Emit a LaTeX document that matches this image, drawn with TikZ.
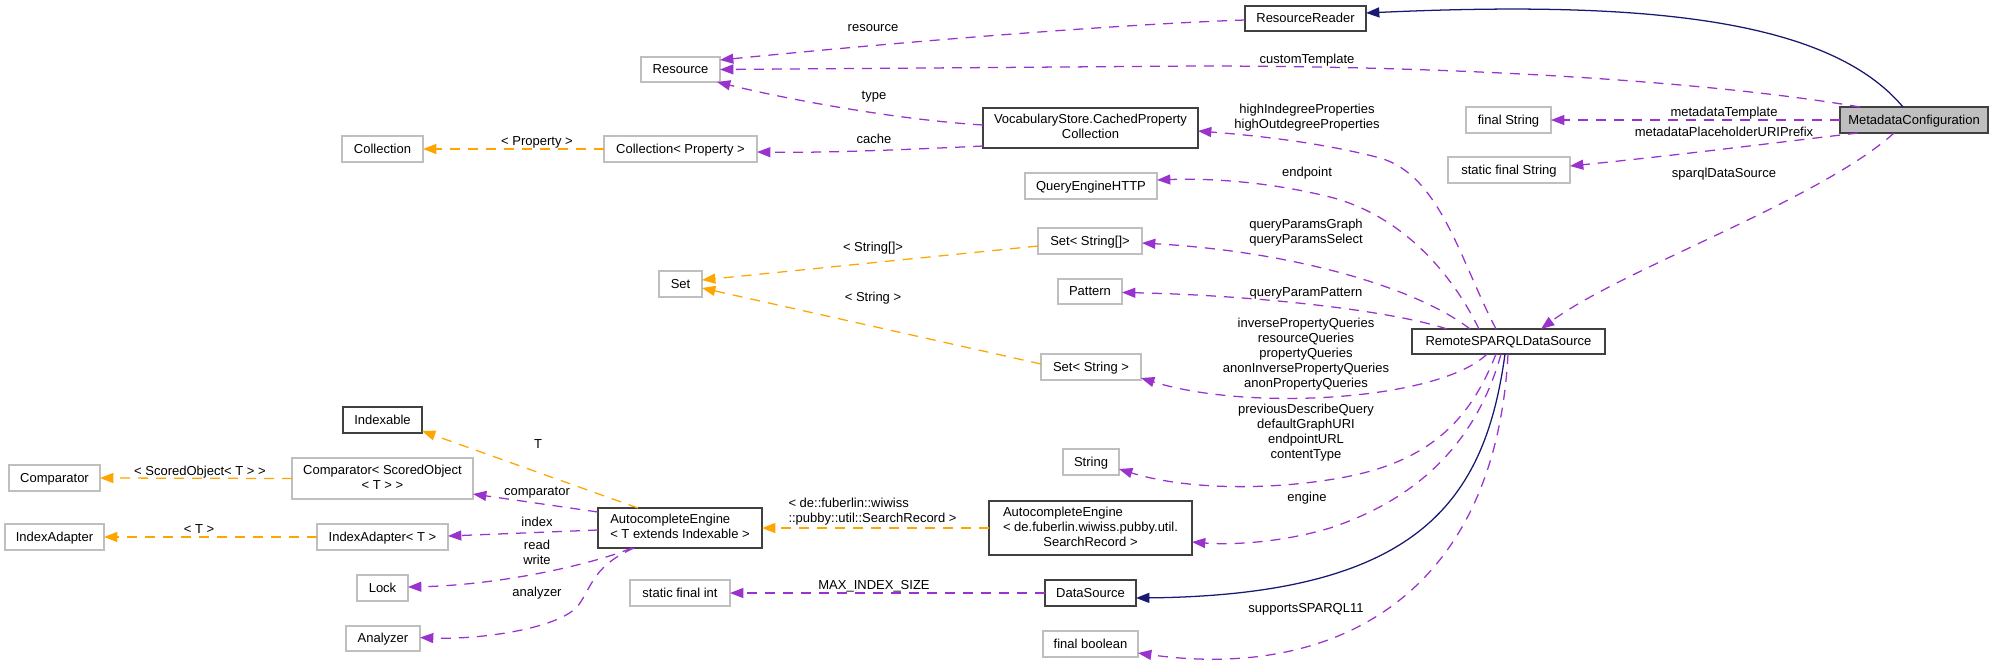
\documentclass[tikz,border=0pt]{standalone}
\usepackage{fontspec}
\setmainfont{Liberation Sans}
\usetikzlibrary{arrows.meta}
\definecolor{edgepurple}{HTML}{9A32CD}
\definecolor{edgeorange}{HTML}{FFA500}
\definecolor{edgenavy}{HTML}{191970}
\definecolor{boxgray}{HTML}{BFBFBF}
\definecolor{boxdark}{HTML}{404040}
\begin{document}
\begin{tikzpicture}[x=0.75pt,y=-0.75pt,
  font=\fontsize{9.75}{11.25}\selectfont,
  cell/.style n args={4}{at={({(#1+#3)/2},{(#2+#4)/2})},
    minimum width={(#3-#1)*0.75pt}, minimum height={(#4-#2)*0.75pt}},
  box/.style={draw=boxgray, line width=0.9pt, fill=white, inner sep=0pt, outer sep=0pt, align=center},
  docbox/.style={box, draw=boxdark, line width=1.3pt},
  one/.style={text height=7.5pt, text depth=1.5pt},
  lbl/.style={inner sep=0pt, align=center},
  lbl1/.style={lbl, text height=7.5pt, text depth=1.5pt},
  tip/.style={-{Triangle[length=10pt,width=7.5pt]}},
  pe/.style={draw=edgepurple, line width=0.95pt, dash pattern=on 7.5pt off 6pt, tip},
  oe/.style={draw=edgeorange, line width=0.95pt, dash pattern=on 7.5pt off 6pt, tip},
  ne/.style={draw=edgenavy, line width=0.95pt, tip},
]
\useasboundingbox (0,0) rectangle (1995,665);

% ---- classes ----
\node[docbox, one, fill=boxgray, cell={1840}{107}{1988}{133}] (meta) {MetadataConfiguration};
\node[docbox, one, cell={1245}{6}{1366}{31}] (rr) {ResourceReader};
\node[box, one, cell={641}{57}{720}{82}] (res) {Resource};
\node[box, one, cell={1466}{107}{1551}{133}] (fstr) {final String};
\node[box, one, cell={1448}{157}{1570}{183}] (sfstr) {static final String};
\node[docbox, cell={983}{108}{1198}{148}] (vocab) {\begin{tabular}{@{}c@{}}VocabularyStore.CachedProperty\\Collection\end{tabular}};
\node[box, one, cell={342}{136}{423}{162}] (coll) {Collection};
\node[box, one, cell={604}{136}{757}{162}] (collp) {Collection< Property >};
\node[box, one, cell={1025}{173}{1157}{199}] (qe) {QueryEngineHTTP};
\node[box, one, cell={1038}{228}{1142}{254}] (setsa) {Set< String[]>};
\node[box, one, cell={659}{271}{702}{297}] (set) {Set};
\node[box, one, cell={1058}{279}{1122}{304}] (pattern) {Pattern};
\node[box, one, cell={1041}{354}{1141}{380}] (sets) {Set< String >};
\node[docbox, one, cell={1412}{329}{1605}{354}] (rsds) {RemoteSPARQLDataSource};
\node[docbox, one, cell={343}{407}{422}{433}] (indexable) {Indexable};
\node[box, one, cell={1063}{449}{1119}{475}] (string) {String};
\node[box, one, cell={9}{465}{100}{491}] (comp) {Comparator};
\node[box, cell={292}{458}{473}{499}] (compso) {\begin{tabular}{@{}c@{}}Comparator< ScoredObject\\< T > >\end{tabular}};
\node[docbox, cell={598}{508}{762}{548}] (aet) {\begin{tabular}{@{}l@{}}AutocompleteEngine\\< T extends Indexable >\end{tabular}};
\node[box, one, cell={5}{524}{104}{550}] (idxa) {IndexAdapter};
\node[box, one, cell={317}{524}{448}{550}] (idxat) {IndexAdapter< T >};
\node[docbox, cell={989}{501}{1192}{555}] (aede) {\begin{tabular}{@{}l@{}}AutocompleteEngine\\< de.fuberlin.wiwiss.pubby.util.\\\multicolumn{1}{@{}c@{}}{SearchRecord >}\end{tabular}};
\node[box, one, cell={357}{575}{408}{601}] (lock) {Lock};
\node[box, one, cell={630}{580}{730}{606}] (sfint) {static final int};
\node[docbox, one, cell={1045}{580}{1136}{606}] (ds) {DataSource};
\node[box, one, cell={346}{626}{420}{651}] (analyzer) {Analyzer};
\node[box, one, cell={1043}{631}{1138}{657}] (fbool) {final boolean};

% ---- inheritance ----
\draw[ne] ([shift={(63,0)}]meta.north west) .. controls (1830,20) and (1650,0) .. ([shift={(0,-5.5)}]rr.east);
\draw[ne] ([shift={(93,0)}]rsds.south west) .. controls (1485,500) and (1420,595) .. ([shift={(0,5)}]ds.east);

% ---- template instances ----
\draw[oe] (collp.west) -- (coll.east);
\draw[oe] ([shift={(0,5)}]setsa.west) -- ([shift={(0,-4)}]set.east);
\draw[oe] ([shift={(0,10)}]sets.north west) -- ([shift={(0,4)}]set.east);
\draw[oe] (aede.west) -- (aet.east);
\draw[oe] ([shift={(40,0)}]aet.north west) -- ([shift={(0,-2)}]indexable.south east);
\draw[oe] (compso.west) -- (comp.east);
\draw[oe] (idxat.west) -- (idxa.east);

% ---- usage relations ----
\draw[pe] ([shift={(20,0)}]meta.north west) .. controls (1700,80) and (1450,66) .. (1200,66) -- (res.east);
\draw[pe] ([shift={(0,14)}]rr.north west) .. controls (1100,25) and (870,45) .. ([shift={(0,3)}]res.north east);
\draw[pe] ([shift={(0,17)}]vocab.north west) .. controls (900,120) and (790,100) .. ([shift={(-3,0)}]res.south east);
\draw[pe] ([shift={(0,38)}]vocab.north west) .. controls (900,150) and (820,153) .. ([shift={(0,3)}]collp.east);
\draw[pe] (meta.west) -- (fstr.east);
\draw[pe] ([shift={(18,0)}]meta.south west) .. controls (1780,142) and (1680,155) .. ([shift={(0,-4)}]sfstr.east);
\draw[pe] ([shift={(54,0)}]meta.south west) .. controls (1820,200) and (1620,270) .. ([shift={(129,0)}]rsds.north west);
\draw[pe] ([shift={(84,0)}]rsds.north west) .. controls (1460,260) and (1440,175) .. (1380,158) .. controls (1320,142) and (1250,135) .. ([shift={(0,3)}]vocab.east);
\draw[pe] ([shift={(67,0)}]rsds.north west) .. controls (1450,270) and (1400,215) .. (1330,197) .. controls (1270,182) and (1210,178) .. ([shift={(0,-6)}]qe.east);
\draw[pe] ([shift={(58,0)}]rsds.north west) .. controls (1420,290) and (1300,252) .. ([shift={(0,2)}]setsa.east);
\draw[pe] ([shift={(35,0)}]rsds.north west) .. controls (1390,310) and (1250,295) .. ([shift={(0,1)}]pattern.east);
\draw[pe] ([shift={(75,0)}]rsds.south west) .. controls (1440,400) and (1250,412) .. ([shift={(0,-2)}]sets.south east);
\draw[pe] ([shift={(84,0)}]rsds.south west) .. controls (1470,420) and (1430,462) .. (1340,478) .. controls (1260,492) and (1180,488) .. ([shift={(0,7)}]string.east);
\draw[pe] ([shift={(89,0)}]rsds.south west) .. controls (1480,430) and (1430,495) .. (1330,528) .. controls (1280,543) and (1230,545) .. ([shift={(0,14)}]aede.east);
\draw[pe] ([shift={(96,0)}]rsds.south west) .. controls (1495,600) and (1330,680) .. ([shift={(0,9)}]fbool.east);
\draw[pe] (ds.west) -- (sfint.east);
\draw[pe] ([shift={(0,4)}]aet.north west) -- ([shift={(0,-5)}]compso.south east);
\draw[pe] ([shift={(0,2)}]aet.west) -- ([shift={(0,-1)}]idxat.east);
\draw[pe] ([shift={(34,0)}]aet.south west) .. controls (590,565) and (500,585) .. ([shift={(0,-1)}]lock.east);
\draw[pe] ([shift={(36,0)}]aet.south west) .. controls (595,565) and (592,585) .. (580,603) .. controls (565,628) and (480,640) .. ([shift={(0,-1)}]analyzer.east);

% ---- edge labels ----
\node[lbl1] (l1) at (1307,59) {customTemplate};
\node[lbl1] (l2) at (873,27) {resource};
\node[lbl1] (l3) at (874,95) {type};
\node[lbl1] (l4) at (874,139) {cache};
\node[lbl1] (l5) at (537,141) {< Property >};
\node[lbl1] (l6) at (1724,112) {metadataTemplate};
\node[lbl1] (l7) at (1724,132) {metadataPlaceholderURIPrefix};
\node[lbl1] (l8) at (1724,173) {sparqlDataSource};
\node[lbl] (l9) at (1307,117.5) {highIndegreeProperties\\highOutdegreeProperties};
\node[lbl1] (l10) at (1307,172) {endpoint};
\node[lbl] (l11) at (1306,233) {queryParamsGraph\\queryParamsSelect};
\node[lbl1] (l12) at (1306,292) {queryParamPattern};
\node[lbl1] (l13) at (873,247) {< String[]>};
\node[lbl1] (l14) at (873,297) {< String >};
\node[lbl] (l15) at (1306,354.5) {inversePropertyQueries\\resourceQueries\\propertyQueries\\anonInversePropertyQueries\\anonPropertyQueries};
\node[lbl] (l16) at (1306,432.5) {previousDescribeQuery\\defaultGraphURI\\endpointURL\\contentType};
\node[lbl1] (l17) at (1307,497) {engine};
\node[lbl1] (l18) at (1306,608) {supportsSPARQL11};
\node[lbl1] (l19) at (874,585) {MAX\_INDEX\_SIZE};
\node[lbl, align=left] (l20) at (872.5,512) {< de::fuberlin::wiwiss\\::pubby::util::SearchRecord >};
\node[lbl1] (l21) at (538,444) {T};
\node[lbl1] (l22) at (200,471) {< ScoredObject< T > >};
\node[lbl1] (l23) at (537,491) {comparator};
\node[lbl1] (l24) at (199,529) {< T >};
\node[lbl1] (l25) at (537,522) {index};
\node[lbl] (l26) at (537,552) {read\\write};
\node[lbl1] (l27) at (537,592) {analyzer};
\end{tikzpicture}
\end{document}
